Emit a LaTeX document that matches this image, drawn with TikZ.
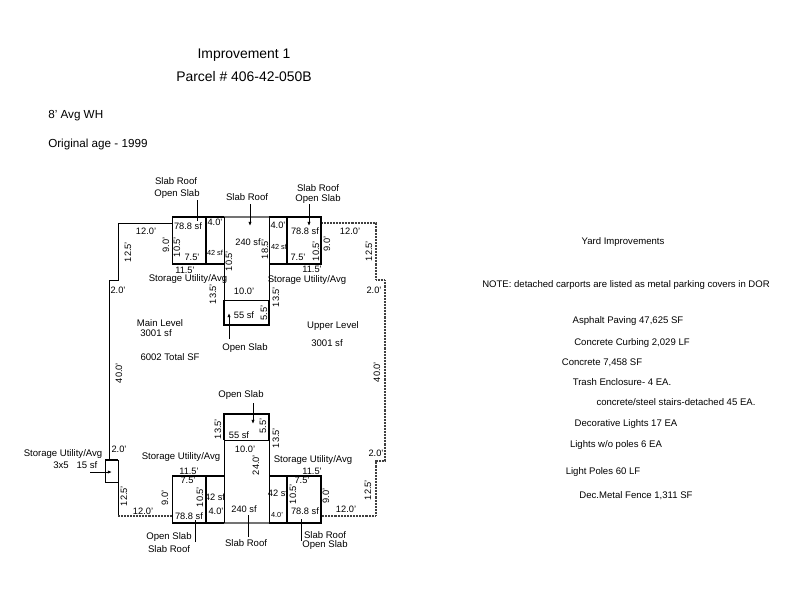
\documentclass[tikz,border=0pt]{standalone}
\usepackage{fontspec}
\setmainfont{Liberation Sans}
\usetikzlibrary{arrows.meta}
\tikzset{
  wall/.style={line width=0.6pt},
  heavy/.style={line width=1.3pt},
  grey wall/.style={line width=1.3pt, black!55},
  dotted wall/.style={line width=1.3pt, black!75, dash pattern=on 0.7pt off 0.35pt},
  leader/.style={line width=0.6pt, -{Latex[length=3pt,width=2.4pt]}},
  plain line/.style={line width=0.6pt},
  title/.style={font=\fontsize{9.9}{12}\selectfont, inner sep=0pt, yshift=-1pt},
  note/.style={font=\fontsize{6.8}{8}\selectfont, inner sep=0pt, yshift=-0.7pt},
  dim/.style={font=\fontsize{6.6}{8}\selectfont, inner sep=0pt, yshift=-0.5pt},
  vdim/.style={font=\fontsize{6.6}{8}\selectfont, inner sep=0pt, rotate=90},
  small/.style={font=\fontsize{5.2}{6}\selectfont, inner sep=0pt}
}
\begin{document}
\begin{tikzpicture}[x=0.025cm, y=-0.025cm]
\useasboundingbox (0,0) rectangle (800,600);

% outline
\draw [wall] (172.5,223) -- (118,223) -- (118,280) -- (109,280) -- (109,460);
\draw [wall] (118,460) -- (118,516);
\draw [dotted wall] (118,516) -- (172.5,516);
\draw [heavy] (105,460) -- (118,460);
\draw [wall] (105,460) -- (105,482) -- (118,482);
\draw [dotted wall] (321,223) -- (376,223) -- (376,280) -- (385,280) -- (385,461) -- (376,461) -- (376,516) -- (321,516);

% top additions
\draw [heavy] (224,217) -- (172.5,217) -- (172.5,264) -- (224,264);
\draw [grey wall] (224,217) -- (269,217);
\draw [heavy] (269,217) -- (321,217) -- (321,264) -- (269,264);
\draw [heavy] (206,217) -- (206,264);
\draw [heavy] (287,217) -- (287,264);
\draw [wall] (224,217) -- (224,300);
\draw [wall] (269,217) -- (269,300);
\draw [wall] (224,300) -- (269,300);
\draw [heavy] (224,300) -- (224,325) -- (269,325) -- (269,300);

% bottom additions
\draw [heavy] (224,476) -- (172.5,476) -- (172.5,523) -- (224,523);
\draw [heavy] (269,476) -- (321,476) -- (321,523) -- (269,523);
\draw [grey wall] (224,523) -- (269,523);
\draw [heavy] (206,476) -- (206,523);
\draw [heavy] (287,476) -- (287,523);
\draw [wall] (224,440) -- (224,523);
\draw [wall] (269,440) -- (269,523);
\draw [wall] (224,440) -- (269,440);
\draw [heavy] (224,440) -- (224,414) -- (269,414) -- (269,440);

% leaders
\draw [plain line] (197,200) -- (197,221);
\draw [leader] (250,204) -- (250,226);
\draw [leader] (309,204) -- (309,226);
\draw [leader] (229,339) -- (229,313);
\draw [leader] (253,403) -- (253,424);
\draw [leader] (90,472) -- (112,472);
\draw [plain line] (195,542) -- (195,520);
\draw [plain line] (248,537) -- (248,515);
\draw [plain line] (301,541) -- (301,519);

% titles
\node [title] (improve) at (244,54) {Improvement 1};
\node [title] (parcel) at (244,75) {Parcel \# 406-42-050B};
\node [title, font=\fontsize{8.3}{10}\selectfont, anchor=west] (height) at (48,114) {8' Avg WH};
\node [title, font=\fontsize{8.3}{10}\selectfont, anchor=west] (age) at (48,143) {Original age - 1999};

% labels, top
\node [note] (slabA) at (176,180) {Slab Roof};
\node [note] (openA) at (177,193) {Open Slab};
\node [note] (slabB) at (247,196) {Slab Roof};
\node [note] (slabC) at (318,187) {Slab Roof};
\node [note] (openC) at (318,198) {Open Slab};
\node [note] (utilA) at (188,278) {Storage Utility/Avg};
\node [note] (utilB) at (307,279) {Storage Utility/Avg};
\node [note] (openD) at (245,347) {Open Slab};
\node [note] (mainlvl) at (160,322) {Main Level};
\node [note] (mainsf) at (156,332) {3001 sf};
\node [note] (total) at (170,356) {6002 Total SF};
\node [note] (upperlvl) at (333,325) {Upper Level};
\node [note] (uppersf) at (327,342) {3001 sf};

% dims, top
\node [dim] at (146,231) {12.0'};
\node [dim] at (350,231) {12.0'};
\node [vdim] at (128,252) {12.5'};
\node [vdim] at (369,251) {12.5'};
\node [dim] at (118,290) {2.0'};
\node [dim] at (374,290) {2.0'};
\node [vdim] at (166,245) {9.0'};
\node [vdim] at (327,244) {9.0'};
\node [dim] at (188,225) {78.8 sf};
\node [dim] at (305,230) {78.8 sf};
\node [vdim] at (177,247) {10.5'};
\node [vdim] at (316,251) {10.5'};
\node [dim] at (192,257) {7.5'};
\node [dim] at (298,257) {7.5'};
\node [dim] at (185,270) {11.5'};
\node [dim] at (312,269) {11.5'};
\node [dim] at (215,222) {4.0'};
\node [dim] at (278,225) {4.0'};
\node [small] at (215,253) {42 sf};
\node [small] at (279,247) {42 sf};
\node [dim] at (248,241) {240 sf};
\node [vdim] at (229,261) {10.5'};
\node [vdim] at (265,249) {18.5'};
\node [dim] at (244,291) {10.0'};
\node [vdim] at (213,294) {13.5'};
\node [vdim] at (276,297) {13.5'};
\node [dim] at (244,314) {55 sf};
\node [vdim] at (264,313) {5.5'};
\node [vdim] at (119,373) {40.0'};
\node [vdim] at (377,372) {40.0'};

% labels, bottom
\node [note] (openE) at (241,394) {Open Slab};
\node [note] (utilC) at (181,456) {Storage Utility/Avg};
\node [note] (utilD) at (313,459) {Storage Utility/Avg};
\node [note] (utilE) at (63,453) {Storage Utility/Avg};
\node [note] (sizeE) at (61,464) {3x5};
\node [note] (sfE) at (87,464) {15 sf};
\node [note] (openF) at (169,536) {Open Slab};
\node [note] (slabF) at (169,548) {Slab Roof};
\node [note] (slabG) at (246,542) {Slab Roof};
\node [note] (slabH) at (325,534) {Slab Roof};
\node [note] (openH) at (325,544) {Open Slab};

% dims, bottom
\node [vdim] at (218,429) {13.5'};
\node [vdim] at (276,438) {13.5'};
\node [dim] at (239,434) {55 sf};
\node [vdim] at (263,426) {5.5'};
\node [dim] at (245,449) {10.0'};
\node [vdim] at (256,465) {24.0'};
\node [dim] at (119,449) {2.0'};
\node [dim] at (376,453) {2.0'};
\node [vdim] at (124,496) {12.5'};
\node [vdim] at (368,490) {12.5'};
\node [dim] at (143,511) {12.0'};
\node [dim] at (346,509) {12.0'};
\node [vdim] at (165,498) {9.0'};
\node [vdim] at (326,496) {9.0'};
\node [dim] at (189,471) {11.5'};
\node [dim] at (312,471) {11.5'};
\node [dim] at (188,480) {7.5'};
\node [dim] at (302,480) {7.5'};
\node [vdim] at (200,497) {10.5'};
\node [vdim] at (293,494) {10.5'};
\node [dim] at (189,515) {78.8 sf};
\node [dim] at (305,510) {78.8 sf};
\node [dim] at (215,496) {42 sf};
\node [dim] at (278,492) {42 sf};
\node [dim] at (216,511) {4.0'};
\node [small] at (277,515) {4.0'};
\node [dim] at (244,508) {240 sf};

% yard notes
\node [note] (yard) at (623,241) {Yard Improvements};
\node [note] (detached) at (626,284) {NOTE: detached carports are listed as metal parking  covers in DOR};
\node [note] (asphalt) at (628,320) {Asphalt Paving 47,625 SF};
\node [note] (curb) at (632,342) {Concrete Curbing 2,029 LF};
\node [note] (concrete) at (602,362) {Concrete 7,458 SF};
\node [note] (trash) at (622,381) {Trash Enclosure- 4 EA.};
\node [note] (stairs) at (676,401) {concrete/steel stairs-detached 45 EA.};
\node [note] (declight) at (626,423) {Decorative Lights 17 EA};
\node [note] (lights) at (616,444) {Lights w/o poles 6 EA};
\node [note] (poles) at (603,471) {Light Poles 60 LF};
\node [note] (fence) at (636,495) {Dec.Metal Fence 1,311 SF};
\end{tikzpicture}
\end{document}
